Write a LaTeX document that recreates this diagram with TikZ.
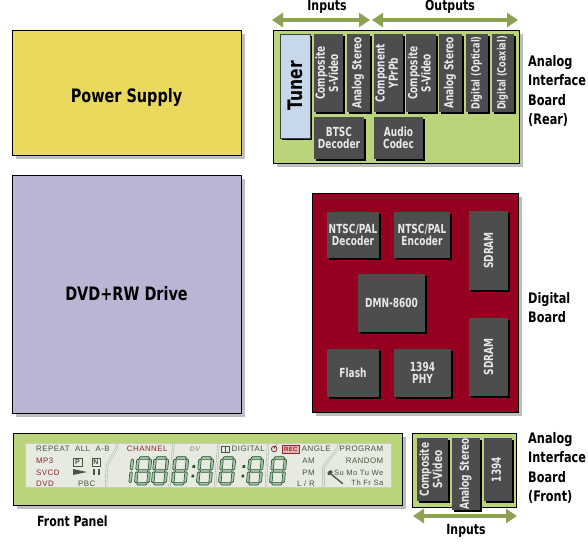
\documentclass[tikz,border=0pt]{standalone}
\usepackage{fontspec}
\setmainfont{DejaVu Sans}
\newfontfamily\labf{DejaVu Sans}[FakeStretch=0.78]
\newfontfamily\chipf{DejaVu Sans}[FakeStretch=0.72]
\newfontfamily\lcdf{Liberation Sans}[LetterSpace=6]
\usetikzlibrary{shadows,arrows.meta}
\definecolor{psyellow}{RGB}{234,217,93}
\definecolor{dvdlav}{RGB}{187,181,213}
\definecolor{boardgreen}{RGB}{186,212,122}
\definecolor{digitalred}{RGB}{150,0,32}
\definecolor{chipgrey}{RGB}{77,77,77}
\definecolor{chiptext}{RGB}{232,232,232}
\definecolor{tunerblue}{RGB}{198,216,234}
\definecolor{arrowgreen}{RGB}{140,162,82}
\definecolor{shadowgrey}{RGB}{190,190,190}
\definecolor{lcdbg}{RGB}{230,234,224}
\definecolor{lcdedge}{RGB}{200,204,194}
\definecolor{lcdgreen}{RGB}{70,88,62}
\definecolor{lcdred}{RGB}{140,40,44}
\definecolor{recpink}{RGB}{232,180,180}
\definecolor{sepgrey}{RGB}{165,170,160}
\definecolor{dvgrey}{RGB}{160,168,130}
\definecolor{digitgreen}{RGB}{32,82,42}
\definecolor{segfill}{RGB}{170,198,170}
\newcommand\rotlab[1]{\rotatebox{90}{\begin{tabular}{@{}c@{}}#1\end{tabular}}}
\newcommand\hsegm[3]{\filldraw[segst] (#1,#3) -- ({#1+1.2},{#3-1.3}) -- ({#2-1.2},{#3-1.3}) -- (#2,#3) -- ({#2-1.2},{#3+1.3}) -- ({#1+1.2},{#3+1.3}) -- cycle;}
\newcommand\vsegm[3]{\filldraw[segst] (#1,#2) -- ({#1+1.3},{#2+1.2}) -- ({#1+1.3},{#3-1.2}) -- (#1,#3) -- ({#1-1.3},{#3-1.2}) -- ({#1-1.3},{#2+1.2}) -- cycle;}
\tikzset{
  board/.style={draw=black, line width=0.8pt, anchor=north west, inner sep=0pt, outer sep=0pt},
  bshadow/.style={drop shadow={shadow xshift=4pt, shadow yshift=-4pt, fill=shadowgrey, opacity=1, draw=none}},
  chip/.style={fill=chipgrey, anchor=north west, inner sep=0pt, outer sep=0pt, text=chiptext, align=center,
    font=\chipf\bfseries\fontsize{12.5}{12.5}\selectfont,
    drop shadow={shadow xshift=2.2pt, shadow yshift=-2.2pt, fill=black, opacity=1, draw=none}},
  smallchip/.style={font=\chipf\bfseries\fontsize{11.3}{11.5}\selectfont},
  sidelab/.style={anchor=north west, align=left, inner sep=0pt, font=\labf\bfseries\fontsize{14.5}{19.5}\selectfont},
  iolab/.style={inner sep=0pt, font=\labf\bfseries\fontsize{14}{14}\selectfont},
  biglab/.style={inner sep=0pt, font=\labf\bfseries\fontsize{18.5}{20}\selectfont},
  ioarrow/.style={draw=arrowgreen, line width=4.5pt, {Triangle[width=14pt,length=11pt]}-{Triangle[width=14pt,length=11pt]}},
  lcdt/.style={inner sep=0pt, anchor=west, text=lcdgreen, font=\lcdf\fontsize{7.9}{8}\selectfont},
  lcdsep/.style={draw=sepgrey, line width=0.4pt, double=lcdbg, double distance=1.3pt},
  segst/.style={draw=digitgreen, fill=segfill, line width=0.6pt, line join=round},
  pics/eightdig/.style={code={
    \begin{scope}[xslant=0.1]
      \hsegm{2.2}{12.8}{1.3}\hsegm{2.2}{12.8}{14.2}\hsegm{2.2}{12.8}{27}
      \vsegm{1.3}{2.2}{13.4}\vsegm{1.3}{15}{26.1}
      \vsegm{13.7}{2.2}{13.4}\vsegm{13.7}{15}{26.1}
    \end{scope}}},
  pics/onedig/.style={code={
    \begin{scope}[xslant=0.1]
      \vsegm{13.7}{2.2}{13.4}\vsegm{13.7}{15}{26.1}
    \end{scope}}},
  pics/coldig/.style={code={
    \begin{scope}[xslant=0.1]
      \fill[digitgreen] (1,8.5) rectangle (3.6,11.2);
      \fill[digitgreen] (1,18) rectangle (3.6,20.7);
    \end{scope}}},
}
\begin{document}
\begin{tikzpicture}[x=1pt,y=-1pt]
\useasboundingbox (0,0) rectangle (588,543);
\fill[white] (0,0) rectangle (588,543);

% ---------- Power supply and drive
\node[board, fill=psyellow, bshadow, minimum width=229pt, minimum height=125pt] (ps) at (12,30) {};
\node[biglab] (pstext) at ([yshift=-5pt]ps.center) {Power Supply};
\node[board, fill=dvdlav, bshadow, minimum width=229pt, minimum height=238pt] (dvd) at (12,175) {};
\node[biglab] (dvdtext) at (dvd.center) {DVD+RW Drive};

% ---------- Rear analog interface board
\coordinate (inA) at (272,20); \coordinate (inB) at (370,20);
\coordinate (outA) at (372,20); \coordinate (outB) at (518,20);
\draw[ioarrow] (inA) -- (inB);
\draw[ioarrow] (outA) -- (outB);
\node[iolab] (inlab) at (327,7) {Inputs};
\node[iolab] (outlab) at (450,7) {Outputs};

\node[board, fill=boardgreen, bshadow, minimum width=246pt, minimum height=133pt] (rear) at (273,30) {};
\node[chip, fill=tunerblue, draw=black!75, line width=0.5pt, text=black,
  font=\labf\bfseries\fontsize{20}{20}\selectfont, minimum width=30pt, minimum height=104pt] (tuner) at (280,34) {\rotatebox{90}{Tuner}};
\node[chip, minimum width=29pt, minimum height=78pt] (ci1) at (314,34) {\rotlab{Composite\\S-Video}};
\node[chip, minimum width=23pt, minimum height=78pt] (ci2) at (347,34) {\rotlab{Analog Stereo}};
\node[chip, minimum width=29pt, minimum height=78pt] (co1) at (374,34) {\rotlab{Component\\YPrPb}};
\node[chip, minimum width=30pt, minimum height=78pt] (co2) at (406,34) {\rotlab{Composite\\S-Video}};
\node[chip, minimum width=23pt, minimum height=78pt] (co3) at (439,34) {\rotlab{Analog Stereo}};
\node[chip, smallchip, minimum width=22pt, minimum height=78pt] (co4) at (466,34) {\rotlab{Digital (Optical)}};
\node[chip, smallchip, minimum width=22pt, minimum height=78pt] (co5) at (492,34) {\rotlab{Digital (Coaxial)}};
\node[chip, minimum width=50pt, minimum height=42pt] (btsc) at (314,117) {BTSC\\Decoder};
\node[chip, minimum width=49pt, minimum height=42pt] (codec) at (374,117) {Audio\\Codec};
\node[sidelab] (rearlab) at (528,55) {Analog\\Interface\\Board\\(Rear)};

% ---------- Digital board
\node[board, fill=digitalred, bshadow, minimum width=206pt, minimum height=219pt] (dig) at (312,193) {};
\node[chip, minimum width=52pt, minimum height=46pt] (ndec) at (327,212) {NTSC/PAL\\Decoder};
\node[chip, minimum width=56pt, minimum height=46pt] (nenc) at (394,212) {NTSC/PAL\\Encoder};
\node[chip, minimum width=39pt, minimum height=79pt] (sd1) at (469,211) {\rotatebox{90}{SDRAM}};
\node[chip, minimum width=67pt, minimum height=58pt] (dmn) at (358,274) {DMN-8600};
\node[chip, minimum width=39pt, minimum height=78pt] (sd2) at (469,318) {\rotatebox{90}{SDRAM}};
\node[chip, minimum width=52pt, minimum height=48pt] (flash) at (327,349) {Flash};
\node[chip, minimum width=57pt, minimum height=48pt] (phy) at (394,349) {1394\\PHY};
\node[sidelab] (diglab) at (528,292) {Digital\\Board};

% ---------- Front panel
\node[board, fill=boardgreen, bshadow, minimum width=389pt, minimum height=72pt] (fp) at (13,433) {};
\node[anchor=north west, fill=lcdbg, draw=lcdedge, line width=0.5pt, inner sep=0pt, outer sep=0pt,
  minimum width=366pt, minimum height=44pt] (lcd) at (25,443) {};
\draw[lcdsep] (117,443.6) -- (117,448) -- (107,465) -- (106,486.4);
\draw[lcdsep] (173.5,443.6) -- (169.5,486.4);
\draw[lcdsep] (218.5,443.6) -- (215,486.4);
\draw[lcdsep] (268,443.6) -- (266,486.4);
\draw[lcdsep] (338.5,443.6) -- (338.5,447) -- (323.5,467) -- (323.5,486.4);

\node[lcdt] (trep) at (36,449) {REPEAT\hspace{5.5pt}ALL\hspace{5.5pt}A-B};
\node[lcdt, text=lcdred] (tmp3) at (36,461) {MP3};
\node[lcdt, text=lcdred] (tsvcd) at (36,472.5) {SVCD};
\node[lcdt, text=lcdred] (tdvd) at (36,483.3) {DVD};
\node[draw=lcdgreen, line width=0.5pt, inner sep=0pt, minimum width=8.5pt, minimum height=8pt, text=lcdgreen,
  font=\lcdf\bfseries\fontsize{7}{7}\selectfont] (pbox) at (77.5,462) {P};
\node[draw=lcdgreen, line width=0.5pt, inner sep=0pt, minimum width=8.5pt, minimum height=8pt, text=lcdgreen,
  font=\lcdf\bfseries\fontsize{7}{7}\selectfont] (nbox) at (96,462) {N};
\fill[lcdgreen] (73,469) -- (87,472) -- (73,475) -- cycle;
\fill[lcdgreen] (93,469) rectangle (95,475);
\fill[lcdgreen] (97.5,469) rectangle (99.5,475);
\node[lcdt, anchor=center] (tpbc) at (86.7,483.3) {PBC};
\node[lcdt, text=lcdred] (tch) at (126.7,449) {CHANNEL};
\node[inner sep=0pt, text=dvgrey, font=\lcdf\bfseries\itshape\fontsize{7}{7}\selectfont] (tdv) at (195,449) {DV};
\draw[lcdgreen, line width=0.6pt] (221,446) rectangle (229.5,452);
\draw[lcdgreen, line width=0.6pt] (225.2,446) -- (225.2,452);
\node[lcdt] (tdig) at (231.5,449) {DIGITAL};
\draw[lcdred, line width=0.8pt] (274.2,449) circle (2.8);
\fill[lcdred] (274.2,449) -- (274.2,446.2) arc[start angle=90, end angle=0, radius=2.8] -- cycle;
\node[draw=lcdred, fill=recpink, line width=0.5pt, inner sep=0pt, minimum width=17pt, minimum height=7.5pt, text=lcdred,
  font=\lcdf\bfseries\fontsize{6}{6}\selectfont] (trec) at (290.8,449) {REC};
\node[lcdt] (tang) at (301.7,449) {ANGLE};
\node[lcdt, anchor=east] (tam) at (315,460.7) {AM};
\node[lcdt, anchor=east] (tpm) at (315,472.5) {PM};
\node[lcdt, anchor=east] (tlr) at (315,483.3) {L / R};
\node[lcdt, anchor=east] (tprog) at (383.5,449) {PROGRAM};
\node[lcdt, anchor=east] (trand) at (383.5,460.7) {RANDOM};
\node[lcdt, anchor=east, font=\lcdf\fontsize{7.6}{8}\selectfont] (tsu) at (383.5,472.5) {Su Mo Tu We};
\node[lcdt, anchor=east, font=\lcdf\fontsize{7.6}{8}\selectfont] (tth) at (383.5,483) {Th Fr Sa};
\draw[lcdgreen, line width=1.4pt, line cap=round] (331.5,474.5) -- (342.5,483.5);
\fill[lcdgreen, rotate around={40:(330,472.7)}] (330,472.7) ellipse (3 and 2);

\pic at (119,456.7) {onedig};
\pic at (137,456.7) {eightdig};
\pic at (154,456.7) {eightdig};
\pic at (174,456.7) {eightdig};
\pic at (192.5,456.7) {coldig};
\pic at (199,456.7) {eightdig};
\pic at (221,456.7) {eightdig};
\pic at (242.5,456.7) {coldig};
\pic at (249,456.7) {eightdig};
\pic at (272,456.7) {eightdig};

\node[iolab, anchor=west] (fplab) at (37,521) {Front Panel};

% ---------- Front analog interface board
\node[board, fill=boardgreen, minimum width=104pt, minimum height=74pt] (front) at (412,433) {};
\node[chip, minimum width=31pt, minimum height=63pt] (fc1) at (417,438) {\rotlab{Composite\\S-Video}};
\node[chip, minimum width=28pt, minimum height=63pt] (fc2) at (452,438) {\rotlab{Analog Stereo}};
\node[chip, minimum width=28pt, minimum height=63pt] (fc3) at (484,438) {\rotlab{1394}};
\coordinate (fA) at (413,516); \coordinate (fB) at (517,516);
\draw[ioarrow] (fA) -- (fB);
\node[iolab] (finlab) at (466,531) {Inputs};
\node[sidelab] (frontlab) at (528,432) {Analog\\Interface\\Board\\(Front)};
\end{tikzpicture}
\end{document}
